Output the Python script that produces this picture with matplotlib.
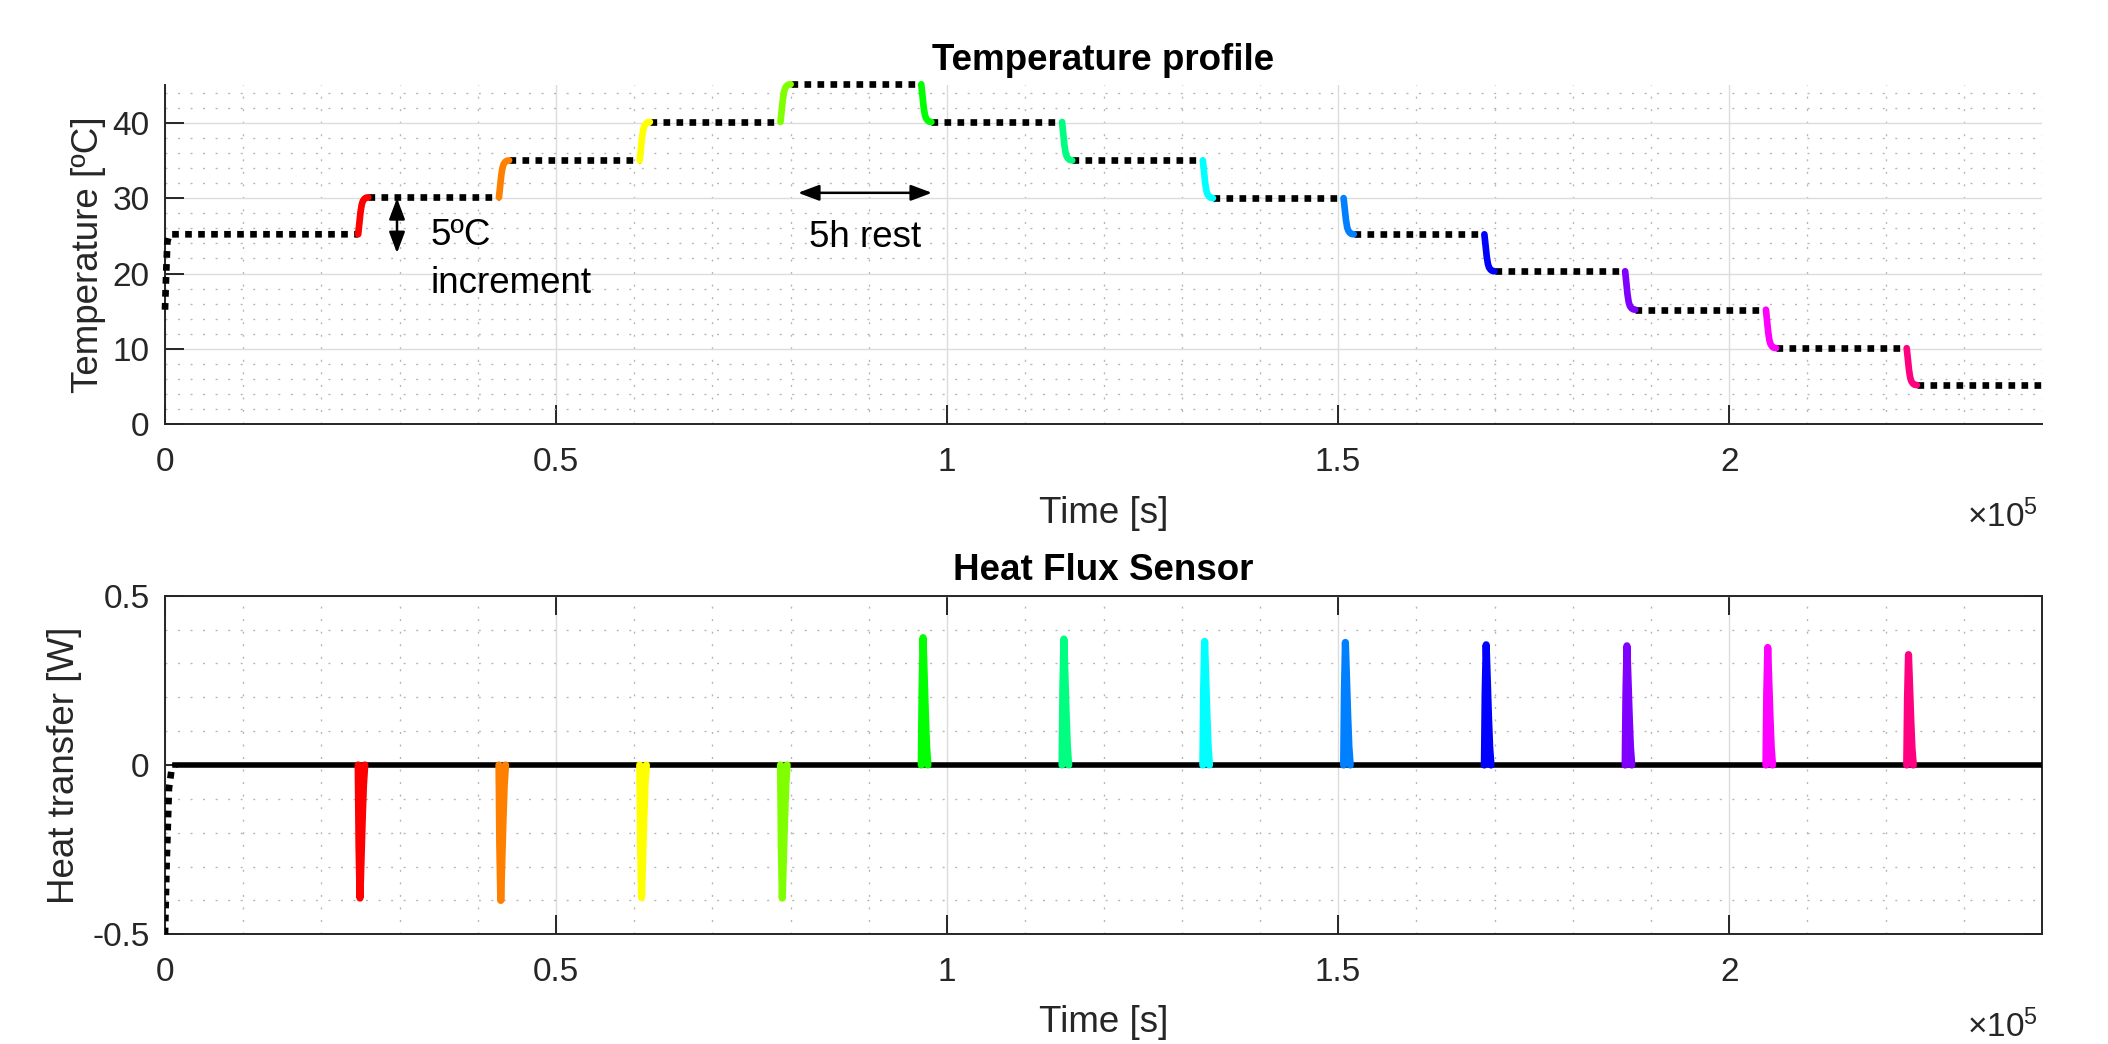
import numpy as np
import matplotlib
matplotlib.use('Agg')
import matplotlib.pyplot as plt
from matplotlib.ticker import MultipleLocator

# ------------------------------------------------------------------ data
step_start_s = [24700, 42700, 60700, 78700, 96700, 114700,
                132700, 150700, 168700, 186700, 204700, 222700]
temp_levels_c = [25.2, 30.1, 35.0, 40.1, 45.1, 40.1, 35.0,
                 30.0, 25.2, 20.3, 15.2, 10.1, 5.2]
step_colors = ['#ff0000', '#ff8000', '#ffff00', '#80ff00', '#00ff00', '#00ff80',
               '#00ffff', '#0080ff', '#0000ff', '#8000ff', '#ff00ff', '#ff0080']

# initial warm-up of the chamber
warmup_t_s = [0, 150, 300, 500, 700]
warmup_temp_c = [15.2, 20.0, 24.2, 25.0, 25.2]

# shape of one temperature transition (seconds after step, fraction of step)
trans_dt_s = [0, 150, 300, 450, 600, 800, 1000, 1300]
trans_frac = [0.0, 0.3, 0.6, 0.8, 0.9, 0.96, 0.99, 1.0]

# heat flux peaks for each step [W]
flux_peaks_w = [-0.393, -0.400, -0.392, -0.393, 0.376, 0.372,
                0.365, 0.362, 0.355, 0.352, 0.347, 0.326]
spike_dt_s = [0, 100, 230, 380, 530, 680, 850]
spike_frac = [0.0, 0.6, 1.0, 0.7, 0.4, 0.15, 0.0]

flux_initial_t_s = [0, 200, 500, 800, 1300]
flux_initial_w = [-0.5, -0.3, -0.07, -0.02, 0.0]
flux_baseline_w = 0.0
t_end_s = 240000

xtick_vals = [0, 50000, 100000, 150000, 200000]
xtick_labels = ['0', '0.5', '1', '1.5', '2']
temp_ticks = [0, 10, 20, 30, 40]
flux_ticks = [-0.5, 0, 0.5]
flux_tick_labels = ['-0.5', '0', '0.5']

# ------------------------------------------------------------------ style
plt.rcParams['font.family'] = ['Liberation Sans', 'DejaVu Sans']
plt.rcParams['mathtext.fontset'] = 'custom'
plt.rcParams['mathtext.rm'] = 'Liberation Sans'
plt.rcParams['mathtext.default'] = 'regular'

AX_COL = '#262626'
TICK_FS = 24
LABEL_FS = 26.5

fig = plt.figure(figsize=(21.08, 10.44), dpi=100)
W, H = 2108, 1044
ax1 = fig.add_axes([165 / W, 1 - 424.3 / H, 1877 / W, 339.3 / H])
ax2 = fig.add_axes([165 / W, 1 - 934.3 / H, 1877 / W, 338.6 / H])


def style_axes(ax, box):
    for side in ['left', 'bottom', 'top', 'right']:
        ax.spines[side].set_color(AX_COL)
        ax.spines[side].set_linewidth(1.4)
        if not box and side in ('top', 'right'):
            ax.spines[side].set_visible(False)
    ax.tick_params(axis='both', which='major', direction='in', length=13.7,
                   width=1.4, color=AX_COL, labelcolor=AX_COL,
                   labelsize=TICK_FS, top=box, right=box)
    ax.tick_params(axis='x', which='major', pad=16)
    ax.tick_params(axis='y', which='major', pad=11)
    ax.tick_params(axis='both', which='minor', length=0)
    ax.grid(True, which='major', color='#dcdcdc', linewidth=1.0, linestyle='-')
    ax.grid(True, which='minor', color='#b4b4b4', linewidth=0.95,
            linestyle=(0, (1.5, 8.0)))
    ax.set_axisbelow(True)
    ax.set_xlim(0, t_end_s)
    ax.set_xticks(xtick_vals)
    ax.set_xticklabels(xtick_labels)
    ax.xaxis.set_minor_locator(MultipleLocator(10000))
    ax.set_xlabel('Time [s]', fontsize=LABEL_FS, color=AX_COL, va='baseline')
    ax.xaxis.set_label_coords(0.5, -0.29)
    ax.text(0.998, -0.303, r'$\times10^{5}$', transform=ax.transAxes,
            ha='right', va='baseline', fontsize=TICK_FS, color=AX_COL)


style_axes(ax1, box=False)
style_axes(ax2, box=True)

# ------------------------------------------------------------------ temperature
dot = (0, (1, 0.95))
LW_T = 4.8
t_first = warmup_t_s + [step_start_s[0]]
v_first = warmup_temp_c + [temp_levels_c[0]]
ax1.plot(t_first, v_first, color='k', lw=LW_T, linestyle=dot,
         dash_capstyle='butt', zorder=3, clip_on=False)
for i, ts in enumerate(step_start_s):
    a, b = temp_levels_c[i], temp_levels_c[i + 1]
    tt = [ts + d for d in trans_dt_s]
    vv = [a + (b - a) * f for f in trans_frac]
    ax1.plot(tt, vv, color=step_colors[i], lw=LW_T, solid_capstyle='round',
             solid_joinstyle='round', zorder=4, clip_on=False)
    t_next = step_start_s[i + 1] if i + 1 < len(step_start_s) else t_end_s
    ax1.plot([tt[-1], t_next], [b, b], color='k', lw=LW_T, linestyle=dot,
             dash_capstyle='butt', zorder=3, clip_on=False)

ax1.set_ylim(0, 45)
ax1.set_yticks(temp_ticks)
ax1.yaxis.set_minor_locator(MultipleLocator(2))
ax1.set_ylabel('Temperature [ºC]', fontsize=LABEL_FS, color=AX_COL, va='center')
ax1.yaxis.set_label_coords((88 - 165) / 1877, 0.5)
ax1.text(0.5, 1.045, 'Temperature profile', transform=ax1.transAxes,
         ha='center', va='baseline', fontsize=LABEL_FS, fontweight='bold')

# annotations
arrow_style = '<|-|>,head_length=0.4,head_width=0.15'
ax1.annotate('', xy=(29665, 30.0), xytext=(29665, 22.7),
             arrowprops=dict(arrowstyle=arrow_style, color='k', lw=1.8,
                             mutation_scale=32, shrinkA=0, shrinkB=0), zorder=6)
ax1.text(34010, 23.8, '5ºC', fontsize=LABEL_FS, color='k', va='baseline', ha='left')
ax1.text(34010, 17.4, 'increment', fontsize=LABEL_FS, color='k', va='baseline', ha='left')
ax1.annotate('', xy=(80940, 30.7), xytext=(98070, 30.7),
             arrowprops=dict(arrowstyle=arrow_style, color='k', lw=1.8,
                             mutation_scale=32, shrinkA=0, shrinkB=0), zorder=6)
ax1.text(89500, 23.5, '5h rest', fontsize=LABEL_FS, color='k', va='baseline', ha='center')

# ------------------------------------------------------------------ heat flux
ax2.plot(flux_initial_t_s, flux_initial_w, color='k', lw=LW_T, linestyle=dot,
         dash_capstyle='butt', zorder=3)
ax2.plot([flux_initial_t_s[-1], t_end_s], [flux_baseline_w, flux_baseline_w],
         color='k', lw=4.0, zorder=3)
for i, ts in enumerate(step_start_s):
    tt = [ts + d for d in spike_dt_s]
    vv = [flux_baseline_w + flux_peaks_w[i] * f for f in spike_frac]
    ax2.plot(tt, vv, color=step_colors[i], lw=5.2, solid_capstyle='round',
             solid_joinstyle='round', zorder=4)

ax2.set_ylim(-0.5, 0.5)
ax2.set_yticks(flux_ticks)
ax2.set_yticklabels(flux_tick_labels)
ax2.yaxis.set_minor_locator(MultipleLocator(0.1))
ax2.set_ylabel('Heat transfer [W]', fontsize=LABEL_FS, color=AX_COL, va='center')
ax2.yaxis.set_label_coords((64 - 165) / 1877, 0.5)
ax2.text(0.5, 1.0464, 'Heat Flux Sensor', transform=ax2.transAxes,
         ha='center', va='baseline', fontsize=LABEL_FS, fontweight='bold')

fig.savefig('out.png', dpi=100)
